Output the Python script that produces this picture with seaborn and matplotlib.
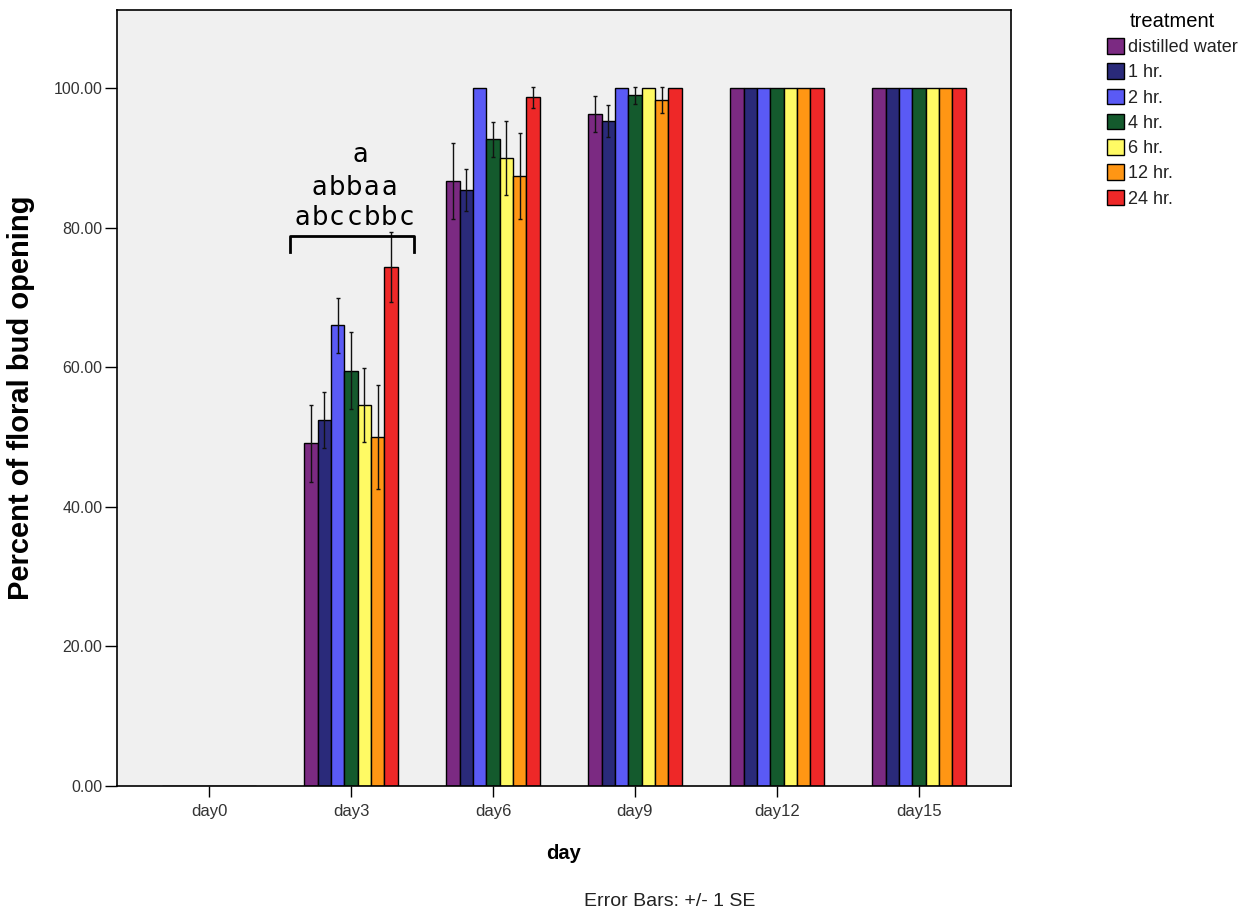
import matplotlib
matplotlib.use("Agg")
import matplotlib.pyplot as plt
import seaborn as sns
import pandas as pd

days = ["day0", "day3", "day6", "day9", "day12", "day15"]
treatments = ["distilled water", "1 hr.", "2 hr.", "4 hr.", "6 hr.", "12 hr.", "24 hr."]
colors = ["#7B2A82", "#2A2A7A", "#5A5AF5", "#145A2D", "#FFFA64", "#FF9614", "#EE2828"]

mean_dw = [0, 49.1, 86.7, 96.3, 100, 100]
mean_1h = [0, 52.4, 85.4, 95.3, 100, 100]
mean_2h = [0, 66.0, 100, 100, 100, 100]
mean_4h = [0, 59.5, 92.7, 99.0, 100, 100]
mean_6h = [0, 54.6, 90.0, 100, 100, 100]
mean_12h = [0, 50.0, 87.4, 98.3, 100, 100]
mean_24h = [0, 74.4, 98.7, 100, 100, 100]

se_dw = [0, 5.5, 5.4, 2.6, 0, 0]
se_1h = [0, 4.0, 3.0, 2.3, 0, 0]
se_2h = [0, 4.0, 0, 0, 0, 0]
se_4h = [0, 5.5, 2.5, 1.2, 0, 0]
se_6h = [0, 5.3, 5.3, 0, 0, 0]
se_12h = [0, 7.5, 6.2, 1.8, 0, 0]
se_24h = [0, 5.0, 1.5, 0, 0, 0]

letters_row1 = "a"
letters_row2 = "abbaa"
letters_row3 = "abccbbc"

means = [mean_dw, mean_1h, mean_2h, mean_4h, mean_6h, mean_12h, mean_24h]
ses = [se_dw, se_1h, se_2h, se_4h, se_6h, se_12h, se_24h]

rows = []
for t, m in zip(treatments, means):
    for d, v in zip(days, m):
        rows.append({"day": d, "treatment": t, "value": v})
df = pd.DataFrame(rows)

plt.rcParams["font.family"] = ["Liberation Sans", "DejaVu Sans"]

W, H = 1251, 917
fig = plt.figure(figsize=(W / 100, H / 100), dpi=100)
fig.patch.set_facecolor("white")
ax = fig.add_axes([117 / W, 1 - 786 / H, 894 / W, 776 / H])
ax.set_facecolor("#F0F0F0")

sns.barplot(data=df, x="day", y="value", hue="treatment", order=days,
            hue_order=treatments, palette=colors, width=0.66, gap=0,
            errorbar=None, edgecolor="black", linewidth=1, saturation=1,
            ax=ax)

# error bars (+/- 1 SE)
for cont, se in zip(ax.containers, ses):
    for patch, s in zip(cont, se):
        if s > 0:
            ax.errorbar(patch.get_x() + patch.get_width() / 2, patch.get_height(),
                        yerr=s, fmt="none", ecolor="#111111", elinewidth=1,
                        capsize=1.5, capthick=1, zorder=5)

ax.set_xlim(-0.648, 5.648)
ax.set_ylim(0, 111.2)
ax.set_yticks([0, 20, 40, 60, 80, 100])
ax.set_yticklabels([f"{v:.2f}" for v in [0, 20, 40, 60, 80, 100]])
ax.tick_params(axis="y", length=9, width=1, pad=1.5, labelsize=11.5, labelcolor="#333333")
ax.tick_params(axis="x", length=8, width=1, pad=5, labelsize=12, labelcolor="#333333")
for sp in ax.spines.values():
    sp.set_linewidth(1.2)
    sp.set_color("black")

ax.set_ylabel("Percent of floral bud opening", fontsize=21, fontweight="bold")
ax.yaxis.set_label_coords(-0.092, 0.5)
ax.set_xlabel("day", fontsize=14.5, fontweight="bold", labelpad=18)

# significance bracket and letters
ax.plot([0.57, 0.57, 1.444, 1.444], [76.5, 78.8, 78.8, 76.5], color="black", lw=2, zorder=6)
x0, step = 0.655, 0.1225
for i, ch in enumerate(letters_row3):
    ax.text(x0 + i * step, 80.4, ch, ha="center", va="baseline", fontsize=18.5,
            family="DejaVu Sans")
for i, ch in enumerate(letters_row2):
    ax.text(x0 + (i + 1) * step, 84.7, ch, ha="center", va="baseline", fontsize=18.5,
            family="DejaVu Sans")
ax.text(x0 + 3 * step + 0.04, 89.4, letters_row1, ha="center", va="baseline", fontsize=18.5,
        family="DejaVu Sans")

# legend
handles, labels = ax.get_legend_handles_labels()
if ax.get_legend() is not None:
    ax.get_legend().remove()
leg = fig.legend(handles, labels, title="treatment", loc="upper left",
                 bbox_to_anchor=(1107 / W, 1 - 12 / H), frameon=False,
                 fontsize=13, title_fontsize=14.5, handlelength=0.95,
                 handleheight=0.95, handletextpad=0.2, labelspacing=0.4,
                 borderpad=0, borderaxespad=0)
for h in leg.legend_handles:
    h.set_edgecolor("black")
    h.set_linewidth(1)
for t in leg.get_texts():
    t.set_color("#222222")

fig.text(670 / W, 1 - 901 / H, "Error Bars: +/- 1 SE", ha="center", va="center",
         fontsize=14, color="#222222")

fig.savefig("out.png", dpi=100)
